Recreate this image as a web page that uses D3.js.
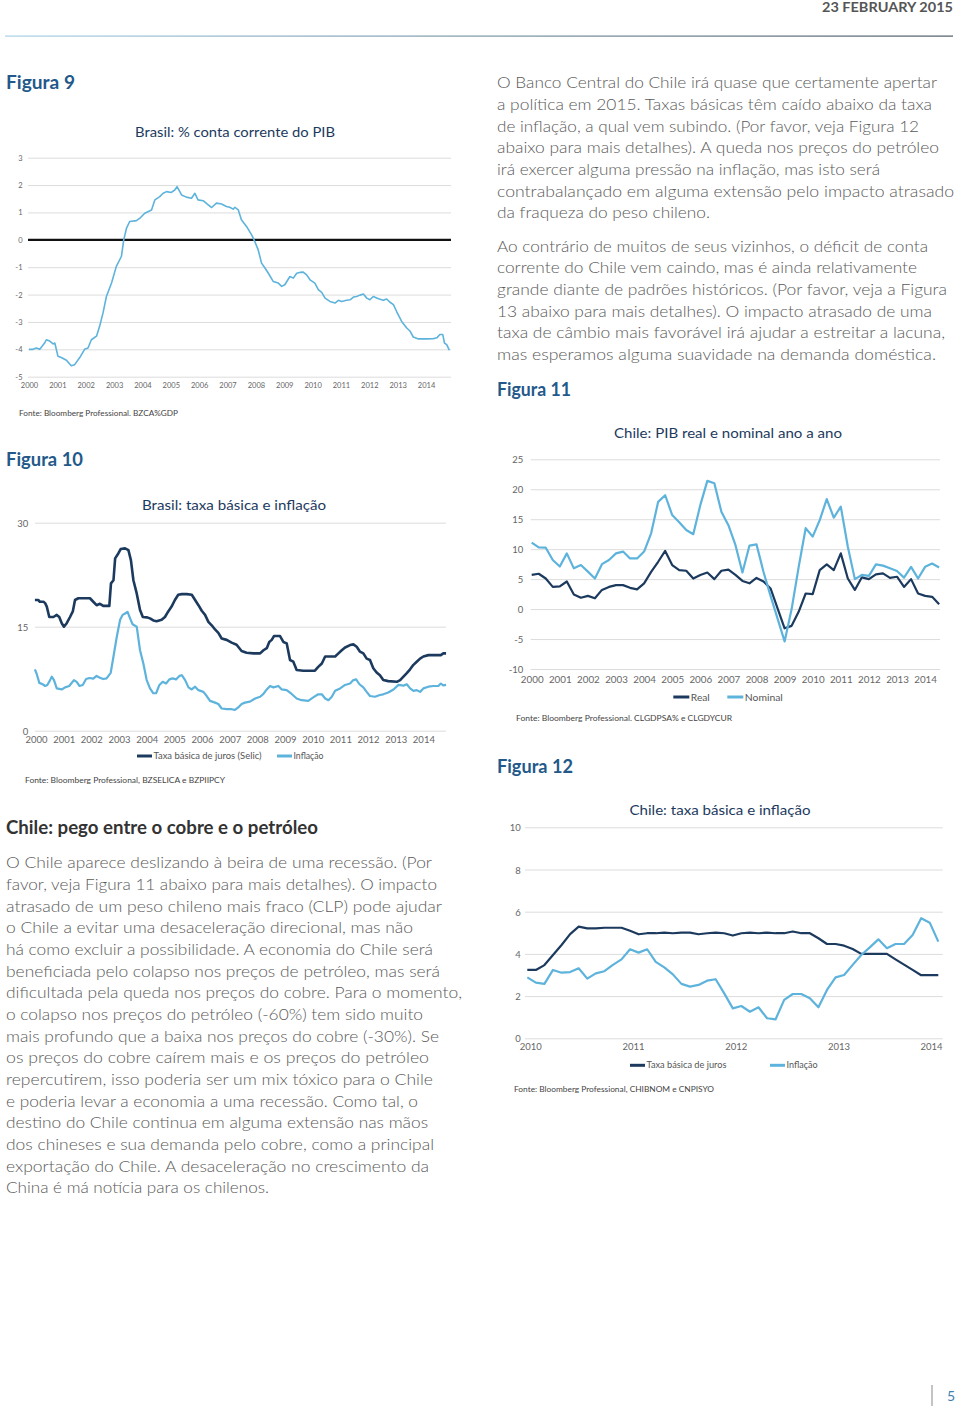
<!DOCTYPE html>
<html><head><meta charset="utf-8">
<script src="https://cdn.jsdelivr.net/npm/d3@7"></script>
<style>body{margin:0;background:#fff}svg text{font-family:Lato,"Open Sans","Noto Sans",sans-serif}</style>
</head><body>
<svg id="page" width="960" height="1408"></svg>
<script>
// ---------- DATA ----------
// Figura 9: Brasil conta corrente % PIB
const cc9Years = [2000.00,2000.14,2000.26,2000.38,2000.55,2000.61,2000.73,2000.85,2000.91,2001.02,2001.14,2001.32,2001.49,2001.61,2001.79,2001.96,2002.08,2002.20,2002.38,2002.49,2002.61,2002.73,2002.91,2003.08,2003.26,2003.34,2003.44,2003.55,2003.79,2003.91,2004.08,2004.32,2004.44,2004.61,2004.73,2004.85,2005.02,2005.14,2005.22,2005.38,2005.55,2005.73,2005.85,2005.96,2006.14,2006.32,2006.44,2006.61,2006.79,2006.96,2007.08,2007.20,2007.26,2007.38,2007.49,2007.67,2007.85,2007.96,2008.08,2008.20,2008.32,2008.44,2008.61,2008.79,2008.91,2009.02,2009.20,2009.32,2009.44,2009.55,2009.67,2009.79,2009.91,2010.08,2010.20,2010.32,2010.44,2010.61,2010.79,2010.91,2011.02,2011.20,2011.32,2011.44,2011.55,2011.67,2011.79,2011.91,2012.02,2012.14,2012.32,2012.49,2012.61,2012.73,2012.85,2012.96,2013.14,2013.32,2013.44,2013.55,2013.73,2013.85,2014.02,2014.26,2014.38,2014.49,2014.59,2014.65,2014.73,2014.82];
const cc9Values = [-4.0,-4.0,-3.95,-4.0,-3.77,-3.65,-3.7,-3.8,-3.77,-4.25,-4.3,-4.4,-4.6,-4.56,-4.3,-4.0,-3.95,-3.65,-3.52,-3.16,-2.67,-2.07,-1.58,-0.97,-0.6,0,0.43,0.67,0.7,0.79,0.97,1.09,1.46,1.58,1.7,1.76,1.73,1.82,1.94,1.64,1.56,1.52,1.7,1.46,1.43,1.28,1.18,1.34,1.31,1.22,1.19,1.12,1.19,1.09,0.73,0.49,0.18,-0.06,-0.36,-0.85,-1.03,-1.22,-1.52,-1.58,-1.7,-1.64,-1.34,-1.4,-1.22,-1.19,-1.18,-1.28,-1.46,-1.58,-1.82,-1.92,-2.13,-2.25,-2.31,-2.21,-2.25,-2.21,-2.19,-2.09,-2.07,-2.02,-1.98,-2.13,-2.19,-2.07,-2.15,-2.21,-2.16,-2.28,-2.37,-2.61,-2.98,-3.22,-3.34,-3.55,-3.62,-3.62,-3.62,-3.61,-3.58,-3.46,-3.46,-3.77,-3.83,-4.03];
const cc9Ticks = [-5,-4,-3,-2,-1,0,1,2,3];
const years00_14 = [2000,2001,2002,2003,2004,2005,2006,2007,2008,2009,2010,2011,2012,2013,2014];

// Figura 10: Brasil Selic e inflação
const selic10Years = [1999.96,2000.08,2000.14,2000.27,2000.33,2000.39,2000.48,2000.63,2000.75,2000.84,2000.93,2001.01,2001.11,2001.23,2001.33,2001.41,2001.53,2001.71,2001.95,2002.07,2002.19,2002.31,2002.43,2002.53,2002.65,2002.71,2002.80,2002.86,2002.98,2003.06,2003.22,2003.34,2003.43,2003.52,2003.64,2003.76,2003.86,2004.00,2004.12,2004.24,2004.36,2004.54,2004.66,2004.78,2004.90,2005.02,2005.14,2005.27,2005.45,2005.63,2005.75,2005.87,2005.99,2006.11,2006.23,2006.35,2006.47,2006.59,2006.71,2006.89,2007.07,2007.25,2007.43,2007.61,2007.86,2008.10,2008.22,2008.34,2008.43,2008.52,2008.60,2008.82,2008.94,2009.06,2009.18,2009.30,2009.42,2009.66,2010.08,2010.20,2010.33,2010.45,2010.81,2010.93,2011.05,2011.17,2011.35,2011.47,2011.59,2011.71,2011.83,2011.95,2012.07,2012.19,2012.31,2012.43,2012.55,2012.73,2013.04,2013.16,2013.28,2013.40,2013.52,2013.64,2013.76,2013.88,2014.00,2014.18,2014.48,2014.63,2014.72,2014.82];
const selic10Values = [18.85,18.85,18.6,18.6,18.4,17.9,16.4,16.4,16.7,16.4,15.5,15.0,15.5,16.4,17.2,18.85,19.1,19.1,19.1,18.6,18.1,18.3,18.0,18.0,18.0,21.25,21.7,24.85,25.6,26.2,26.3,26.05,24.6,21.7,19.8,17.4,16.4,16.35,16.2,15.9,15.8,16.0,16.4,17.2,17.9,18.85,19.6,19.7,19.7,19.6,18.85,18.1,17.3,16.7,15.7,15.2,14.6,14.1,13.3,13.1,12.7,12.4,11.5,11.25,11.15,11.15,11.6,11.9,12.8,13.1,13.65,13.65,12.8,12.6,10.2,9.95,8.75,8.65,8.65,9.2,9.7,10.7,10.7,11.15,11.6,12.0,12.35,12.45,12.1,11.4,11.15,10.4,10.2,9.0,8.4,8.0,7.3,7.15,7.05,7.3,7.8,8.3,8.85,9.5,9.95,10.4,10.7,10.9,10.9,10.9,11.15,11.15];
const infl10Years = [1999.96,2000.02,2000.12,2000.24,2000.33,2000.41,2000.51,2000.57,2000.65,2000.75,2000.93,2001.05,2001.20,2001.37,2001.47,2001.57,2001.69,2001.81,2001.93,2002.07,2002.19,2002.31,2002.43,2002.55,2002.70,2002.80,2002.92,2003.04,2003.13,2003.22,2003.31,2003.40,2003.49,2003.64,2003.76,2003.88,2004.00,2004.12,2004.24,2004.34,2004.46,2004.58,2004.70,2004.82,2004.94,2005.06,2005.18,2005.27,2005.39,2005.51,2005.63,2005.75,2005.87,2006.05,2006.17,2006.29,2006.47,2006.59,2006.71,2006.89,2007.07,2007.19,2007.31,2007.43,2007.55,2007.73,2007.92,2008.10,2008.22,2008.34,2008.46,2008.58,2008.76,2008.88,2009.06,2009.24,2009.42,2009.60,2009.84,2010.02,2010.20,2010.33,2010.45,2010.57,2010.69,2010.81,2010.99,2011.17,2011.35,2011.47,2011.57,2011.69,2011.83,2011.95,2012.07,2012.25,2012.43,2012.55,2012.73,2012.92,2013.10,2013.28,2013.40,2013.52,2013.64,2013.76,2013.88,2014.00,2014.18,2014.36,2014.54,2014.63,2014.72,2014.82];
const infl10Values = [8.85,8.25,6.9,6.7,6.45,6.6,7.3,7.8,7.3,6.1,5.95,6.25,6.45,7.3,7.05,6.45,6.6,7.45,7.6,7.5,7.9,7.65,7.45,7.55,8.35,10.7,13.55,16.0,16.7,16.9,17.15,16.2,15.35,15.0,11.6,9.7,7.3,6.1,5.4,5.4,6.6,7.05,6.8,7.4,7.55,7.4,7.9,8.0,7.3,6.25,5.95,6.35,5.85,5.6,5.0,4.3,4.05,3.85,3.2,3.1,3.1,3.0,3.35,3.85,4.05,4.2,4.65,4.9,5.3,5.95,6.45,6.25,6.45,5.95,5.85,5.3,4.65,4.4,4.3,4.8,5.25,5.25,4.65,4.4,4.9,5.75,6.1,6.6,6.8,7.3,7.4,6.7,6.25,5.6,5.0,4.9,5.15,5.25,5.5,5.95,6.6,6.5,6.7,6.1,5.75,5.85,5.6,6.1,6.35,6.45,6.45,6.8,6.55,6.6];
const ticks10 = [0,15,30];

// Figura 11: Chile PIB real e nominal (trimestral, 2000T1..2014T3)
const real11 = [5.7,5.9,5.1,3.7,3.8,4.6,2.45,1.9,2.2,1.8,3.2,3.7,4.0,4.0,3.55,3.3,4.3,6.2,7.9,9.7,7.35,6.5,6.4,5.1,5.7,6.1,5.0,6.4,6.6,5.7,4.7,4.3,5.2,4.6,3.45,0.1,-3.2,-2.8,-0.45,2.6,2.5,6.5,7.45,6.5,9.3,5.1,3.2,5.3,5.0,5.8,5.95,5.2,5.4,3.7,5.0,2.6,2.2,2.05,0.8];
const nominal11 = [11.1,10.3,10.25,8.2,7.1,9.3,6.8,7.35,6.25,5.1,7.5,8.2,9.3,9.6,8.45,8.45,9.6,12.65,17.9,19.0,15.7,14.5,13.2,12.5,17.35,21.4,21.0,16.25,14.0,10.7,6.1,10.6,10.8,6.2,2.2,-1.6,-5.4,0.0,7.0,13.5,12.1,14.85,18.35,15.25,17.1,10.4,5.0,5.7,5.55,7.45,7.25,6.8,6.35,5.25,7.05,5.1,7.05,7.6,6.95];
const ticks11 = [-10,-5,0,5,10,15,20,25];

// Figura 12: Chile taxa básica e inflação (mensal, jan 2010..jan 2014)
const taxa12 = [3.24,3.24,3.47,3.95,4.42,4.94,5.29,5.21,5.21,5.24,5.24,5.24,5.1,4.93,4.98,4.98,5.01,4.98,5.01,5.01,4.93,4.98,5.01,4.98,4.87,4.98,5.01,4.98,5.01,4.98,4.98,5.06,4.98,4.98,4.74,4.47,4.47,4.39,4.23,4.0,4.0,4.0,4.0,3.74,3.49,3.24,2.99,2.99,2.99];
const infl12 = [2.89,2.64,2.58,3.24,3.11,3.14,3.32,2.83,3.08,3.18,3.48,3.74,4.22,4.06,4.22,3.62,3.36,3.03,2.58,2.45,2.53,2.73,2.8,2.13,1.42,1.53,1.26,1.47,0.95,0.9,1.82,2.1,2.1,1.9,1.47,2.29,2.89,3.0,3.48,3.95,4.31,4.69,4.27,4.47,4.47,4.9,5.69,5.48,4.58];
const ticks12 = [0,2,4,6,8,10];
const years12 = [2010,2011,2012,2013,2014];

// Text
const rightPara1 = ["O Banco Central do Chile irá quase que certamente apertar","a política em 2015. Taxas básicas têm caído abaixo da taxa","de inflação, a qual vem subindo. (Por favor, veja Figura 12","abaixo para mais detalhes). A queda nos preços do petróleo","irá exercer alguma pressão na inflação, mas isto será","contrabalançado em alguma extensão pelo impacto atrasado","da fraqueza do peso chileno."];
const rightPara1End = [937,932,919,939,880,954,710];
const rightPara2 = ["Ao contrário de muitos de seus vizinhos, o déficit de conta","corrente do Chile vem caindo, mas é ainda relativamente","grande diante de padrões históricos. (Por favor, veja a Figura","13 abaixo para mais detalhes). O impacto atrasado de uma","taxa de câmbio mais favorável irá ajudar a estreitar a lacuna,","mas esperamos alguma suavidade na demanda doméstica."];
const rightPara2End = [928,917,947,932,945,936];
const leftPara = ["O Chile aparece deslizando à beira de uma recessão. (Por","favor, veja Figura 11 abaixo para mais detalhes). O impacto","atrasado de um peso chileno mais fraco (CLP) pode ajudar","o Chile a evitar uma desaceleração direcional, mas não","há como excluir a possibilidade. A economia do Chile será","beneficiada pelo colapso nos preços de petróleo, mas será","dificultada pela queda nos preços do cobre. Para o momento,","o colapso nos preços do petróleo (-60%) tem sido muito","mais profundo que a baixa nos preços do cobre (-30%). Se","os preços do cobre caírem mais e os preços do petróleo","repercutirem, isso poderia ser um mix tóxico para o Chile","e poderia levar a economia a uma recessão. Como tal, o","destino do Chile continua em alguma extensão nas mãos","dos chineses e sua demanda pelo cobre, como a principal","exportação do Chile. A desaceleração no crescimento da","China é má notícia para os chilenos."];
const leftParaEnd = [432,437,442,413,433,440,462,423,439,429,433,418,428,434,429,269];

// ---------- DRAW ----------
const svg = d3.select('#page');
const NAVY = '#1c3a5e', LIGHT = '#5db3dc', GRID = '#dcdcdc', AX = '#666', BODY = '#5a5a5a', HEAD = '#23598a';

function txt(x, y, s, o = {}) {
  const t = svg.append('text').attr('x', x).attr('y', y).text(s)
    .attr('font-size', o.size || 16).attr('fill', o.fill || BODY)
    .attr('font-weight', o.weight || 300)
    .attr('text-anchor', o.anchor || 'start')
    .attr('dominant-baseline', 'central');
  if (o.width) t.attr('textLength', o.width).attr('lengthAdjust', 'spacingAndGlyphs');
  return t;
}

// header
const defs = svg.append('defs');
const gr = defs.append('linearGradient').attr('id', 'hdr');
gr.append('stop').attr('offset', '0%').attr('stop-color', '#a9d2e8');
gr.append('stop').attr('offset', '100%').attr('stop-color', '#4d5b66');
svg.append('rect').attr('x', 5).attr('y', 35.5).attr('width', 948).attr('height', 1.2).attr('fill', 'url(#hdr)');
txt(953, 7, '23 FEBRUARY 2015', {size: 13, weight: 700, fill: '#555', anchor: 'end', width: 131});

// headings
txt(6, 82, 'Figura 9', {size: 18, weight: 700, fill: HEAD, width: 69});
txt(6, 459, 'Figura 10', {size: 18, weight: 700, fill: HEAD, width: 77});
txt(497, 389, 'Figura 11', {size: 18, weight: 700, fill: HEAD, width: 74});
txt(497, 766, 'Figura 12', {size: 18, weight: 700, fill: HEAD, width: 76});
txt(6, 827, 'Chile: pego entre o cobre e o petróleo', {size: 18, weight: 700, fill: '#333', width: 312});

// paragraphs
rightPara1.forEach((s, i) => txt(497, 81.7 + i * 21.67, s, {width: rightPara1End[i] - 497}));
rightPara2.forEach((s, i) => txt(497, 245 + i * 21.67, s, {width: rightPara2End[i] - 497}));
leftPara.forEach((s, i) => txt(6, 861.7 + i * 21.67, s, {width: leftParaEnd[i] - 6}));

// page number
svg.append('line').attr('x1', 932).attr('x2', 932).attr('y1', 1385).attr('y2', 1406).attr('stroke', '#888').attr('stroke-width', 1);
txt(951, 1395, '5', {size: 14, weight: 400, fill: '#3f7fae', anchor: 'middle'});

function chart(c) {
  const x = d3.scaleLinear().domain(c.xDomain).range(c.xRange);
  const y = d3.scaleLinear().domain(c.yDomain).range(c.yRange);
  const g = svg.append('g');
  const ya = g.append('g').attr('transform', `translate(${c.gx0},0)`)
    .call(d3.axisLeft(y).tickValues(c.yTicks).tickSize(-(c.gx1 - c.gx0)).tickPadding(c.yPad).tickFormat(d => String(d)));
  ya.select('.domain').remove();
  ya.selectAll('line').attr('stroke', GRID).attr('stroke-width', 1);
  ya.selectAll('text').attr('font-size', c.ySize).attr('fill', AX).attr('dy', null).attr('dominant-baseline', 'central');
  const xa = g.append('g').attr('transform', `translate(0,${c.xLabelY})`)
    .call(d3.axisBottom(x).tickValues(c.xTicks).tickSize(0).tickPadding(0).tickFormat(d => String(d)));
  xa.select('.domain').remove();
  xa.selectAll('text').attr('font-size', c.xSize).attr('fill', AX).attr('dy', null).attr('y', 0)
    .attr('dominant-baseline', 'central').attr('dx', c.xDx || 0);
  if (c.lastEnd) xa.selectAll('text').filter((d, i, n) => i === n.length - 1).attr('text-anchor', 'end').attr('dx', 0).attr('x', c.lastEnd - x(c.xTicks[c.xTicks.length - 1]));
  if (c.zeroLine) g.append('line').attr('x1', c.gx0).attr('x2', c.gx1).attr('y1', y(0)).attr('y2', y(0)).attr('stroke', '#111').attr('stroke-width', 2.4);
  const line = d3.line().x(d => x(d[0])).y(d => y(d[1]));
  c.series.forEach(s => {
    g.append('path').datum(d3.zip(s.x, s.y)).attr('d', line).attr('fill', 'none')
      .attr('stroke', s.color).attr('stroke-width', s.width).attr('stroke-linejoin', 'round');
  });
  // title
  txt(c.title[1], c.title[2], c.title[0], {size: 14, weight: 400, fill: NAVY, anchor: 'middle', width: c.title[3]});
  // legend
  (c.legend || []).forEach(l => {
    g.append('line').attr('x1', l.x).attr('x2', l.x + l.w).attr('y1', l.y).attr('y2', l.y).attr('stroke', l.color).attr('stroke-width', 3);
    txt(l.x + l.w + 1.5, l.y, l.label, {size: l.size, weight: 400, fill: '#555', width: l.tw});
  });
  // source
  txt(c.src[1], c.src[2], c.src[0], {size: 8, weight: 400, fill: '#444', width: c.src[3]});
}

chart({
  xDomain: [2000, 2015], xRange: [29, 454.4], yDomain: [-5, 3], yRange: [376.7, 157.7],
  gx0: 28, gx1: 451, yTicks: cc9Ticks, yPad: 5.5, ySize: 7.5, xTicks: years00_14, xLabelY: 385, xSize: 7.5,
  zeroLine: true,
  series: [{x: cc9Years, y: cc9Values, color: LIGHT, width: 1.6}],
  title: ['Brasil: % conta corrente do PIB', 235, 131.5, 200],
  src: ['Fonte: Bloomberg Professional. BZCA%GDP', 19, 412.7, 159]
});

chart({
  xDomain: [2000, 2015], xRange: [36, 451.05], yDomain: [0, 30], yRange: [730.7, 522.7],
  gx0: 35, gx1: 446, yTicks: ticks10, yPad: 6.7, ySize: 9.5, xTicks: years00_14, xLabelY: 739.3, xSize: 9.5,
  series: [{x: selic10Years, y: selic10Values, color: NAVY, width: 2.6}, {x: infl10Years, y: infl10Values, color: LIGHT, width: 2.2}],
  title: ['Brasil: taxa básica e inflação', 234, 504, 184],
  legend: [{x: 137, w: 15, y: 756, color: NAVY, label: 'Taxa básica de juros (Selic)', size: 8.5, tw: 108},
           {x: 277, w: 15, y: 756, color: LIGHT, label: 'Inflação', size: 8.5, tw: 30}],
  src: ['Fonte: Bloomberg Professional,  BZSELICA e BZPIIPCY', 25, 780, 200]
});

chart({
  xDomain: [2000, 2015], xRange: [531.7, 953.2], yDomain: [-10, 25], yRange: [669, 459.3],
  gx0: 530.7, gx1: 940, yTicks: ticks11, yPad: 7.4, ySize: 9.5, xTicks: years00_14, xLabelY: 679.3, xSize: 9.8,
  series: [{x: real11.map((d, i) => 2000 + i * 0.25), y: real11, color: NAVY, width: 2.2},
           {x: nominal11.map((d, i) => 2000 + i * 0.25), y: nominal11, color: LIGHT, width: 2.2}],
  title: ['Chile: PIB real e nominal ano a ano', 728, 432.3, 228],
  legend: [{x: 673.3, w: 16, y: 697, color: NAVY, label: 'Real', size: 10, tw: 19},
           {x: 727.3, w: 16, y: 697, color: LIGHT, label: 'Nominal', size: 10, tw: 38}],
  src: ['Fonte: Bloomberg Professional. CLGDPSA% e CLGDYCUR', 516, 717.7, 216]
});

chart({
  xDomain: [2010, 2014], xRange: [527.3, 938.3], yDomain: [0, 10], yRange: [1038.3, 827.3],
  gx0: 525, gx1: 942.7, yTicks: ticks12, yPad: 4.3, ySize: 9.5, xTicks: years12, xLabelY: 1046.7, xSize: 9.5, xDx: 3, lastEnd: 942,
  series: [{x: taxa12.map((d, i) => 2010 + i / 12), y: taxa12, color: NAVY, width: 2.2},
           {x: infl12.map((d, i) => 2010 + i / 12), y: infl12, color: LIGHT, width: 2.2}],
  title: ['Chile: taxa básica e inflação', 720, 809, 181],
  legend: [{x: 630, w: 15, y: 1065.3, color: NAVY, label: 'Taxa básica de juros', size: 8.5, tw: 80},
           {x: 770, w: 15, y: 1065.3, color: LIGHT, label: 'Inflação', size: 8.5, tw: 31}],
  src: ['Fonte: Bloomberg Professional,  CHIBNOM e CNPISYO', 514, 1089.3, 200]
});
</script>
</body></html>
